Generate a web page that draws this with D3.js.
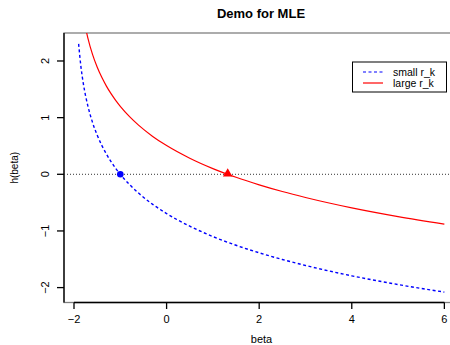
<!DOCTYPE html>
<html>
<head>
<meta charset="utf-8">
<script src="https://cdn.jsdelivr.net/npm/d3@7"></script>
<style>
  html, body { margin: 0; padding: 0; background: #fff; }
  svg { display: block; font-family: "Liberation Sans", Arial, Helvetica, sans-serif; }
</style>
</head>
<body>
<svg id="chart" width="450" height="345"></svg>
<script>
// ---- data ----
const betaValues = [-1.9, -1.85, -1.8, -1.75, -1.7, -1.6, -1.5, -1.4, -1.3, -1.2, -1.1, -1.0, -0.8, -0.6, -0.3, 0, 0.5, 1, 1.5, 2, 2.5, 3, 4, 5, 6];
const smallRk = [2.303, 1.897, 1.609, 1.386, 1.204, 0.916, 0.693, 0.511, 0.357, 0.223, 0.105, 0.0, -0.182, -0.336, -0.531, -0.693, -0.916, -1.099, -1.253, -1.386, -1.504, -1.609, -1.792, -1.946, -2.079];
const largeRk = [3.503, 3.097, 2.809, 2.586, 2.404, 2.116, 1.893, 1.711, 1.557, 1.423, 1.305, 1.2, 1.018, 0.864, 0.669, 0.507, 0.284, 0.101, -0.053, -0.186, -0.304, -0.409, -0.592, -0.746, -0.879];
const rootSmall = [-1.0, 0];
const rootLarge = [1.32, 0];
const xTicks = [-2, 0, 2, 4, 6];
const yTicks = [-2, -1, 0, 1, 2];
const legendLabels = ["small r_k", "large r_k"];
const titleText = "Demo for MLE";
const xLabel = "beta";
const yLabel = "h(beta)";

(function () {
// ---- layout ----
const svg = d3.select("#chart");
const pL = 64, pR = 459, pT = 33, pB = 302.5;
const x = d3.scaleLinear().domain([-2.216, 6.316]).range([pL, pR]);
const y = d3.scaleLinear().domain([-2.263, 2.494]).range([pB, pT]);

svg.append("defs").append("clipPath").attr("id", "plotclip")
  .append("rect").attr("x", pL).attr("y", pT).attr("width", pR - pL).attr("height", pB - pT);

// box
svg.append("rect").attr("x", pL).attr("y", pT).attr("width", pR - pL).attr("height", pB - pT)
  .attr("fill", "none").attr("stroke", "#808080").attr("stroke-width", 1.3);
svg.append("line").attr("x1", pL).attr("x2", pL).attr("y1", pT).attr("y2", pB)
  .attr("stroke", "#000").attr("stroke-width", 1.3);

// x axis
const xAxis = svg.append("g");
xAxis.append("line").attr("x1", x(xTicks[0])).attr("x2", x(xTicks[xTicks.length - 1]))
  .attr("y1", pB).attr("y2", pB).attr("stroke", "#000").attr("stroke-width", 1.3);
xAxis.selectAll("line.tick").data(xTicks).enter().append("line").attr("class", "tick")
  .attr("x1", d => x(d)).attr("x2", d => x(d)).attr("y1", pB).attr("y2", pB + 6.5)
  .attr("stroke", "#000").attr("stroke-width", 1.3);
xAxis.selectAll("text").data(xTicks).enter().append("text")
  .attr("x", d => x(d)).attr("y", 323).attr("text-anchor", "middle")
  .attr("font-size", 11).text(d => d < 0 ? "\u2212" + Math.abs(d) : d);

// y axis
const yAxis = svg.append("g");
yAxis.selectAll("line.tick").data(yTicks).enter().append("line").attr("class", "tick")
  .attr("x1", pL - 7).attr("x2", pL).attr("y1", d => y(d)).attr("y2", d => y(d))
  .attr("stroke", "#000").attr("stroke-width", 1.3);
yAxis.selectAll("text").data(yTicks).enter().append("text")
  .attr("transform", d => `translate(49,${y(d)}) rotate(-90)`)
  .attr("text-anchor", "middle").attr("font-size", 11)
  .text(d => d < 0 ? "\u2212" + Math.abs(d) : d);

// labels
svg.append("text").attr("x", 261).attr("y", 17.5).attr("text-anchor", "middle")
  .attr("font-size", 13).attr("font-weight", "bold").text(titleText);
svg.append("text").attr("x", 261.5).attr("y", 343).attr("text-anchor", "middle")
  .attr("font-size", 11).text(xLabel);
svg.append("text").attr("transform", `translate(18,${(pT + pB) / 2}) rotate(-90)`)
  .attr("text-anchor", "middle").attr("font-size", 10).text(yLabel);

// plot content
const plot = svg.append("g").attr("clip-path", "url(#plotclip)");
plot.append("line").attr("x1", pL).attr("x2", pR).attr("y1", y(0)).attr("y2", y(0))
  .attr("stroke", "#333").attr("stroke-width", 1).attr("stroke-dasharray", "1,2");

const line = d3.line().x(d => x(d[0])).y(d => y(d[1])).curve(d3.curveMonotoneX);
plot.append("path").datum(betaValues.map((b, i) => [b, smallRk[i]]))
  .attr("d", line).attr("fill", "none").attr("stroke", "#0000ff")
  .attr("stroke-width", 1.4).attr("stroke-dasharray", "3,2.5");
plot.append("path").datum(betaValues.map((b, i) => [b, largeRk[i]]))
  .attr("d", line).attr("fill", "none").attr("stroke", "#ff0000").attr("stroke-width", 1.2);

// roots
svg.append("circle").attr("cx", x(rootSmall[0])).attr("cy", y(rootSmall[1])).attr("r", 3.3).attr("fill", "#0000ff");
const tx = x(rootLarge[0]), ty = y(rootLarge[1]);
svg.append("path").attr("d", d3.symbol().type(d3.symbolTriangle).size(40)())
  .attr("transform", `translate(${tx},${ty - 0.5})`).attr("fill", "#ff0000");

// legend
const lg = svg.append("g");
lg.append("rect").attr("x", 352.5).attr("y", 62).attr("width", 94).attr("height", 30)
  .attr("fill", "#fff").attr("stroke", "#000").attr("stroke-width", 1);
const rowsY = [72, 83];
lg.append("line").attr("x1", 363).attr("x2", 383).attr("y1", rowsY[0]).attr("y2", rowsY[0])
  .attr("stroke", "#0000ff").attr("stroke-width", 1.2).attr("stroke-dasharray", "3,2.5");
lg.append("line").attr("x1", 363).attr("x2", 383).attr("y1", rowsY[1]).attr("y2", rowsY[1])
  .attr("stroke", "#ff0000").attr("stroke-width", 1.2);
lg.selectAll("text").data(legendLabels).enter().append("text")
  .attr("x", 393).attr("y", (d, i) => rowsY[i] + 3.7).attr("font-size", 10.5).text(d => d);
})();
</script>
</body>
</html>
